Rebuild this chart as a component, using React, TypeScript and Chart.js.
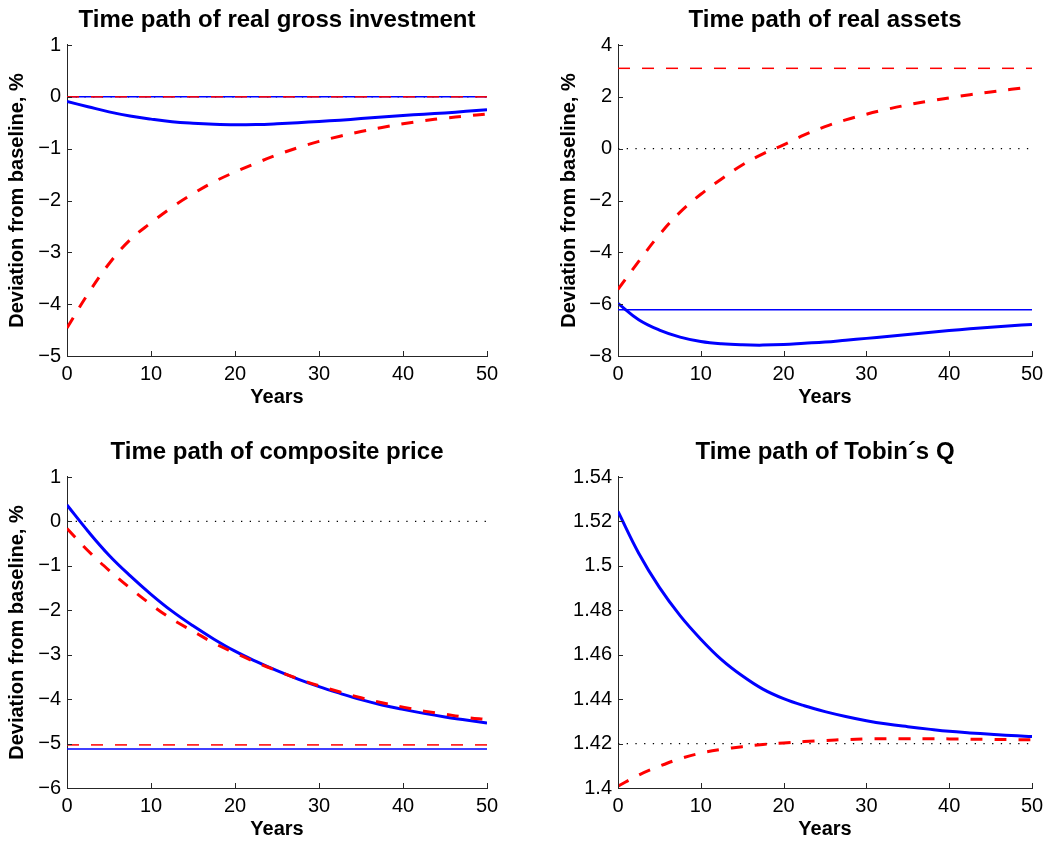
import React, { useEffect, useRef } from "react";
import { Chart, registerables } from "chart.js";

Chart.register(...registerables);

const FONT = "'Liberation Sans', Arial, Helvetica, sans-serif";

const years = [0, 2.5, 5, 7.5, 10, 12.5, 15, 17.5, 20, 22.5, 25, 27.5, 30, 32.5, 35, 37.5, 40, 42.5, 45, 47.5, 50];

// Panel 1: real gross investment
const investBlue = [-0.09, -0.19, -0.29, -0.37, -0.43, -0.48, -0.51, -0.53, -0.54, -0.535, -0.52, -0.5, -0.475, -0.45, -0.42, -0.39, -0.36, -0.335, -0.31, -0.28, -0.25];
const investRed = [-4.46, -3.8, -3.22, -2.76, -2.43, -2.13, -1.87, -1.64, -1.45, -1.28, -1.12, -0.98, -0.86, -0.76, -0.67, -0.59, -0.52, -0.46, -0.41, -0.37, -0.33];
const investBlueSS = 0;
const investRedSS = 0;
const investBase = 0;

// Panel 2: real assets
const assetsBlue = [-5.97, -6.6, -7.0, -7.27, -7.44, -7.53, -7.57, -7.58, -7.56, -7.51, -7.46, -7.39, -7.32, -7.25, -7.17, -7.09, -7.02, -6.95, -6.89, -6.83, -6.78];
const assetsRed = [-5.43, -4.35, -3.32, -2.45, -1.76, -1.17, -0.63, -0.2, 0.15, 0.53, 0.85, 1.11, 1.33, 1.52, 1.69, 1.83, 1.96, 2.08, 2.19, 2.29, 2.39];
const assetsBlueSS = -6.22;
const assetsRedSS = 3.1;
const assetsBase = 0;

// Panel 3: composite price
const priceBlue = [0.37, -0.22, -0.76, -1.22, -1.64, -2.02, -2.35, -2.65, -2.92, -3.15, -3.36, -3.55, -3.72, -3.87, -4.01, -4.13, -4.23, -4.32, -4.4, -4.47, -4.54];
const priceRed = [-0.16, -0.66, -1.1, -1.5, -1.87, -2.2, -2.47, -2.74, -2.96, -3.17, -3.36, -3.54, -3.7, -3.84, -3.97, -4.08, -4.18, -4.27, -4.34, -4.41, -4.46];
const priceBlueSS = -5.12;
const priceRedSS = -5.03;
const priceBase = 0;

// Panel 4: Tobin's Q
const tobinBlue = [1.5245, 1.5057, 1.4903, 1.4776, 1.467, 1.4578, 1.4505, 1.4445, 1.4402, 1.437, 1.4344, 1.4322, 1.4303, 1.4288, 1.4276, 1.4265, 1.4255, 1.4248, 1.4242, 1.4236, 1.4232];
const tobinRed = [1.4008, 1.4058, 1.4098, 1.4132, 1.4157, 1.4174, 1.4186, 1.4196, 1.4203, 1.4209, 1.4214, 1.4218, 1.4221, 1.4222, 1.4222, 1.4222, 1.4221, 1.422, 1.4219, 1.4218, 1.4217];
const tobinBase = 1.42;

const titles = [
  "Time path of real gross investment",
  "Time path of real assets",
  "Time path of composite price",
  "Time path of Tobin\u00b4s Q",
];
const yLabel = "Deviation from baseline, %";
const xLabel = "Years";
const xMin = 0;
const xMax = 50;

const BLUE = "#0000ff";
const RED = "#ff0000";
const AXIS = "#262626";

type PanelCfg = {
  left: number; top: number; width: number; height: number;
  plotLeft: number; plotRight: number; plotTop: number; plotBottom: number;
  yTitlePad: number; xTitlePad: number;
  title: string; ylabel: string | null;
  yMin: number; yMax: number; yStep: number; decimals: number;
  blue: number[]; red: number[];
  blueSS: number | null; redSS: number | null; base: number;
};

const pts = (ys: number[]) => years.map((x, i) => ({ x, y: ys[i] }));
const flat = (v: number) => [{ x: xMin, y: v }, { x: xMax, y: v }];

const innerTicks = {
  id: "innerTicks",
  afterDraw(chart: any) {
    const { ctx, chartArea, scales } = chart;
    ctx.save();
    ctx.strokeStyle = AXIS;
    ctx.lineWidth = 1;
    scales.x.ticks.forEach((t: any) => {
      const px = Math.round(scales.x.getPixelForValue(t.value)) + 0.5;
      ctx.beginPath();
      ctx.moveTo(px, chartArea.bottom);
      ctx.lineTo(px, chartArea.bottom - 5);
      ctx.stroke();
    });
    scales.y.ticks.forEach((t: any) => {
      const py = Math.round(scales.y.getPixelForValue(t.value)) + 0.5;
      ctx.beginPath();
      ctx.moveTo(chartArea.left, py);
      ctx.lineTo(chartArea.left + 5, py);
      ctx.stroke();
    });
    ctx.restore();
  },
};

function Panel({ cfg }: { cfg: PanelCfg }) {
  const ref = useRef<HTMLCanvasElement | null>(null);
  useEffect(() => {
    if (!ref.current) return;
    const datasets: any[] = [];
    datasets.push({
      data: pts(cfg.red), borderColor: RED, borderWidth: 3, borderDash: [12, 12],
      pointRadius: 0, tension: 0.4, order: 0, fill: false,
    });
    datasets.push({
      data: pts(cfg.blue), borderColor: BLUE, borderWidth: 3,
      pointRadius: 0, tension: 0.4, order: 1, fill: false,
    });
    if (cfg.redSS !== null) {
      datasets.push({
        data: flat(cfg.redSS), borderColor: RED, borderWidth: 1.5, borderDash: [12, 12],
        pointRadius: 0, order: 2, fill: false,
      });
    }
    if (cfg.blueSS !== null) {
      datasets.push({
        data: flat(cfg.blueSS), borderColor: BLUE, borderWidth: 1.5,
        pointRadius: 0, order: 3, fill: false,
      });
    }
    datasets.push({
      data: flat(cfg.base), borderColor: "#000000", borderWidth: 1.2, borderDash: [1.3, 7.4],
      pointRadius: 0, order: 4, fill: false,
    });

    const fmt = (v: number) => {
      const s = String(Number(Number(v).toFixed(cfg.decimals)));
      return s.replace("-", "\u2212");
    };

    const chart = new Chart(ref.current, {
      type: "line",
      data: { datasets },
      options: {
        animation: false,
        responsive: false,
        maintainAspectRatio: false,
        devicePixelRatio: 1,
        layout: { padding: { left: 0, top: 0, bottom: 0, right: cfg.width - cfg.plotRight } },
        plugins: {
          legend: { display: false },
          tooltip: { enabled: false },
          title: {
            display: true,
            text: cfg.title,
            fullSize: false,
            color: "#000",
            font: { family: FONT, size: 24, weight: "bold" },
            padding: { top: 5.6, bottom: cfg.plotTop - 5.6 - 28.8 },
          },
        },
        scales: {
          x: {
            type: "linear",
            min: xMin,
            max: xMax,
            grid: { display: false, drawTicks: false },
            border: { display: true, color: AXIS, width: 1 },
            ticks: {
              stepSize: 10, padding: 6, color: "#000", maxRotation: 0,
              font: { family: FONT, size: 20 },
              callback: (v: any) => fmt(v),
            },
            title: {
              display: true, text: xLabel, color: "#000",
              font: { family: FONT, size: 20, weight: "bold" },
              padding: { top: 0, bottom: cfg.xTitlePad },
            },
            afterFit: (s: any) => { s.height = cfg.height - cfg.plotBottom; },
          },
          y: {
            type: "linear",
            min: cfg.yMin,
            max: cfg.yMax,
            grid: { display: false, drawTicks: false },
            border: { display: true, color: AXIS, width: 1 },
            ticks: {
              stepSize: cfg.yStep, padding: 6, color: "#000",
              font: { family: FONT, size: 20 },
              callback: (v: any) => fmt(v),
            },
            title: {
              display: !!cfg.ylabel, text: cfg.ylabel || "", color: "#000",
              font: { family: FONT, size: 20, weight: "bold" },
              padding: { top: cfg.yTitlePad, bottom: 0 },
            },
            afterFit: (s: any) => { s.width = cfg.plotLeft; },
          },
        },
      } as any,
      plugins: [innerTicks],
    });
    return () => chart.destroy();
  }, [cfg]);
  return (
    <canvas
      ref={ref}
      width={cfg.width}
      height={cfg.height}
      style={{ position: "absolute", left: cfg.left, top: cfg.top, width: cfg.width, height: cfg.height, display: "block" }}
    />
  );
}

const panels: PanelCfg[] = [
  {
    left: 0, top: 0, width: 529, height: 420,
    plotLeft: 67, plotRight: 487, plotTop: 45, plotBottom: 356,
    yTitlePad: 5.7, xTitlePad: 10.6,
    title: titles[0], ylabel: yLabel,
    yMin: -5, yMax: 1, yStep: 1, decimals: 0,
    blue: investBlue, red: investRed, blueSS: investBlueSS, redSS: investRedSS, base: investBase,
  },
  {
    left: 530, top: 0, width: 529, height: 420,
    plotLeft: 88, plotRight: 502, plotTop: 45, plotBottom: 356,
    yTitlePad: 27.4, xTitlePad: 10.6,
    title: titles[1], ylabel: yLabel,
    yMin: -8, yMax: 4, yStep: 2, decimals: 0,
    blue: assetsBlue, red: assetsRed, blueSS: assetsBlueSS, redSS: assetsRedSS, base: assetsBase,
  },
  {
    left: 0, top: 432, width: 529, height: 409,
    plotLeft: 67, plotRight: 487, plotTop: 45, plotBottom: 356,
    yTitlePad: 5.7, xTitlePad: 0,
    title: titles[2], ylabel: yLabel,
    yMin: -6, yMax: 1, yStep: 1, decimals: 0,
    blue: priceBlue, red: priceRed, blueSS: priceBlueSS, redSS: priceRedSS, base: priceBase,
  },
  {
    left: 530, top: 432, width: 529, height: 409,
    plotLeft: 88, plotRight: 502, plotTop: 45, plotBottom: 356,
    yTitlePad: 27.4, xTitlePad: 0,
    title: titles[3], ylabel: null,
    yMin: 1.4, yMax: 1.54, yStep: 0.02, decimals: 2,
    blue: tobinBlue, red: tobinRed, blueSS: null, redSS: null, base: tobinBase,
  },
];

export default function App() {
  return (
    <div style={{ position: "absolute", left: 0, top: 0, width: 1059, height: 841, overflow: "hidden", background: "#ffffff" }}>
      {panels.map((p, i) => (
        <Panel key={i} cfg={p} />
      ))}
    </div>
  );
}
